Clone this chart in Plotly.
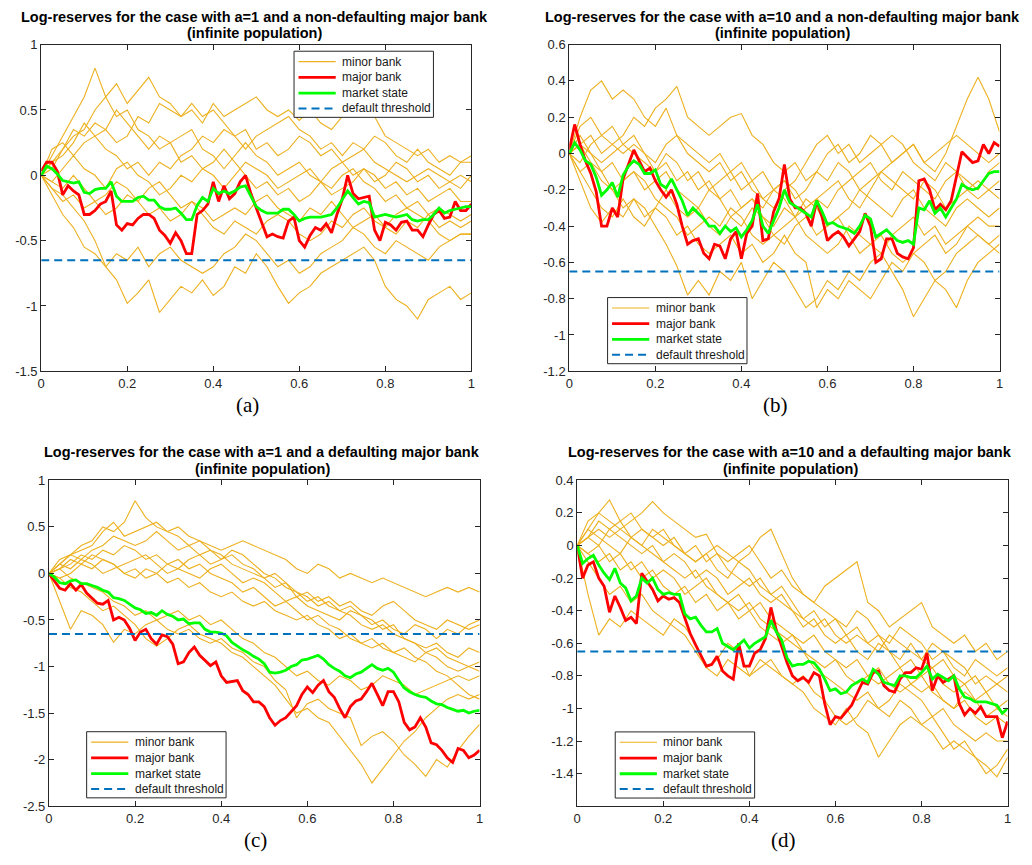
import plotly.graph_objects as go

W, H = 1032, 865
THRESH = -0.65

# time grids
T_MINOR = [i / 40 for i in range(41)]
T_MAJOR = [i / 80 for i in range(81)]

# ---------------- Panel (a): a=1, non-defaulting ----------------
A_MAJOR = [0.03, 0.1, 0.1, 0.03, -0.15, -0.08, -0.12, -0.15, -0.3, -0.3, -0.27, -0.22, -0.2, -0.12, -0.38, -0.42,
           -0.37, -0.38, -0.33, -0.3, -0.3, -0.33, -0.42, -0.46, -0.52, -0.44, -0.5, -0.6, -0.6, -0.3, -0.27, -0.22,
           -0.05, -0.2, -0.08, -0.18, -0.14, -0.05, 0.0, -0.14, -0.25, -0.36, -0.47, -0.45, -0.47, -0.48, -0.35, -0.32,
           -0.5, -0.55, -0.46, -0.4, -0.42, -0.37, -0.44, -0.3, -0.18, 0.0, -0.14, -0.18, -0.17, -0.16, -0.42, -0.5,
           -0.36, -0.38, -0.42, -0.36, -0.35, -0.42, -0.42, -0.47, -0.38, -0.3, -0.27, -0.33, -0.32, -0.2, -0.27, -0.27, -0.22]
A_MARKET = [0.0, 0.07, 0.05, 0.01, -0.04, -0.05, -0.06, -0.05, -0.13, -0.14, -0.11, -0.1, -0.1, -0.05, -0.16, -0.2,
            -0.2, -0.2, -0.17, -0.16, -0.19, -0.19, -0.24, -0.26, -0.26, -0.25, -0.29, -0.34, -0.34, -0.23, -0.17, -0.2,
            -0.1, -0.14, -0.12, -0.14, -0.12, -0.09, -0.08, -0.16, -0.24, -0.27, -0.29, -0.29, -0.29, -0.26, -0.26, -0.3,
            -0.35, -0.33, -0.32, -0.32, -0.32, -0.31, -0.3, -0.25, -0.19, -0.12, -0.17, -0.22, -0.2, -0.21, -0.32, -0.31,
            -0.3, -0.31, -0.32, -0.31, -0.3, -0.34, -0.35, -0.34, -0.34, -0.3, -0.25, -0.29, -0.27, -0.26, -0.25, -0.24, -0.24]
A_MINOR = [
    [0, 0.15, 0.3, 0.45, 0.6, 0.82, 0.6, 0.45, 0.5, 0.35, 0.3, 0.2, 0.25, 0.1, 0.15, 0.05, 0.1, 0.2, 0.1, 0.0, -0.1,
     -0.05, -0.15, -0.1, -0.2, -0.15, -0.05, -0.1, 0.0, 0.05, -0.05, -0.1, -0.2, -0.15, -0.25, -0.2, -0.3, -0.25, -0.3, -0.35, -0.3],
    [0, 0.1, 0.2, 0.3, 0.35, 0.5, 0.6, 0.7, 0.55, 0.65, 0.75, 0.6, 0.55, 0.45, 0.5, 0.4, 0.55, 0.45, 0.5, 0.55, 0.6,
     0.5, 0.45, 0.5, 0.42, 0.5, 0.4, 0.35, 0.45, 0.5, 0.55, 0.45, 0.3, 0.25, 0.2, 0.15, 0.2, 0.1, 0.15, 0.1, 0.15],
    [0, 0.05, 0.2, 0.35, 0.3, 0.4, 0.35, 0.25, 0.3, 0.45, 0.4, 0.55, 0.5, 0.45, 0.55, 0.45, 0.5, 0.4, 0.3, 0.35, 0.2,
     0.25, 0.15, 0.2, 0.3, 0.25, 0.15, 0.2, 0.1, 0.0, 0.05, -0.05, 0.0, 0.1, 0.05, -0.05, 0.0, -0.1, -0.05, 0.0, -0.05],
    [0, 0.2, 0.25, 0.15, 0.25, 0.3, 0.2, 0.15, 0.05, 0.1, 0.0, 0.1, 0.05, 0.15, 0.2, 0.3, 0.25, 0.35, 0.3, 0.2, 0.3,
     0.35, 0.4, 0.45, 0.35, 0.3, 0.2, 0.25, 0.15, 0.25, 0.2, 0.3, 0.25, 0.15, 0.1, 0.2, 0.1, 0.05, 0.0, 0.1, 0.1],
    [0, -0.05, 0.05, 0.15, 0.05, 0.0, -0.1, 0.05, 0.1, 0.0, -0.05, -0.15, -0.1, 0.0, -0.05, 0.05, 0.0, -0.1, 0.0, 0.1,
     0.05, 0.0, -0.1, -0.05, 0.0, 0.05, -0.05, -0.15, -0.1, -0.05, 0.05, 0.0, -0.1, -0.05, -0.15, -0.1, -0.2, -0.15, -0.1, -0.2, -0.2],
    [0, -0.1, -0.2, -0.15, -0.25, -0.2, -0.3, -0.25, -0.15, -0.2, -0.3, -0.25, -0.35, -0.3, -0.2, -0.25, -0.35, -0.3,
     -0.25, -0.3, -0.2, -0.15, -0.25, -0.3, -0.35, -0.25, -0.3, -0.2, -0.3, -0.4, -0.35, -0.3, -0.4, -0.45, -0.35, -0.4,
     -0.3, -0.4, -0.35, -0.4, -0.35],
    [0, -0.15, -0.3, -0.4, -0.55, -0.6, -0.7, -0.8, -0.98, -0.9, -0.8, -1.05, -0.95, -0.85, -0.9, -0.8, -0.92, -0.85,
     -0.7, -0.75, -0.6, -0.7, -0.85, -0.98, -0.9, -0.85, -0.75, -0.7, -0.65, -0.6, -0.55, -0.65, -0.85, -0.95, -1.0,
     -1.1, -0.95, -0.9, -0.85, -0.95, -0.9],
    [0, -0.1, -0.15, -0.25, -0.35, -0.5, -0.7, -0.6, -0.65, -0.55, -0.7, -0.6, -0.55, -0.65, -0.7, -0.75, -0.7, -0.6,
     -0.55, -0.45, -0.5, -0.6, -0.7, -0.65, -0.75, -0.7, -0.6, -0.55, -0.5, -0.4, -0.45, -0.55, -0.6, -0.5, -0.55, -0.6,
     -0.65, -0.55, -0.5, -0.45, -0.45],
    [0, -0.05, -0.1, 0.0, -0.1, -0.2, -0.15, -0.05, -0.1, -0.2, -0.1, -0.05, -0.15, -0.25, -0.2, -0.3, -0.4, -0.45,
     -0.35, -0.4, -0.45, -0.35, -0.3, -0.35, -0.45, -0.5, -0.45, -0.35, -0.4, -0.3, -0.25, -0.35, -0.4, -0.3, -0.25,
     -0.3, -0.35, -0.45, -0.5, -0.45, -0.45],
    [0, 0.1, 0.15, 0.25, 0.4, 0.3, 0.35, 0.5, 0.4, 0.3, 0.2, 0.3, 0.25, 0.3, 0.35, 0.2, 0.15, 0.05, 0.15, 0.25, 0.15,
     0.1, 0.0, 0.05, 0.1, 0.0, -0.05, 0.05, 0.1, 0.15, 0.2, 0.1, 0.05, 0.0, -0.05, 0.0, 0.05, 0.0, -0.05, -0.1, 0.0],
]

# ---------------- Panel (b): a=10, non-defaulting ----------------
B_MAJOR = [0.02, 0.16, 0.05, -0.04, -0.11, -0.21, -0.4, -0.4, -0.3, -0.35, -0.14, -0.06, 0.02, -0.04, -0.1, -0.08,
           -0.15, -0.2, -0.24, -0.2, -0.28, -0.4, -0.5, -0.48, -0.47, -0.55, -0.58, -0.5, -0.51, -0.58, -0.47, -0.43,
           -0.58, -0.44, -0.4, -0.22, -0.48, -0.47, -0.32, -0.25, -0.06, -0.25, -0.3, -0.3, -0.33, -0.4, -0.26, -0.35,
           -0.48, -0.45, -0.43, -0.46, -0.51, -0.47, -0.43, -0.33, -0.4, -0.6, -0.58, -0.47, -0.47, -0.55, -0.57, -0.58,
           -0.52, -0.15, -0.14, -0.2, -0.31, -0.28, -0.31, -0.26, -0.13, 0.01, -0.02, -0.05, -0.04, 0.05, 0.0, 0.06, 0.04]
B_MARKET = [0.0, 0.06, 0.02, -0.04, -0.06, -0.13, -0.23, -0.2, -0.16, -0.24, -0.12, -0.07, -0.04, -0.06, -0.11, -0.11,
            -0.09, -0.17, -0.19, -0.14, -0.2, -0.26, -0.34, -0.3, -0.33, -0.36, -0.4, -0.4, -0.44, -0.4, -0.43, -0.41,
            -0.46, -0.42, -0.37, -0.28, -0.4, -0.44, -0.37, -0.3, -0.2, -0.27, -0.29, -0.31, -0.33, -0.35, -0.26, -0.32,
            -0.39, -0.38, -0.4, -0.41, -0.42, -0.44, -0.4, -0.34, -0.36, -0.46, -0.44, -0.42, -0.45, -0.48, -0.49, -0.48,
            -0.5, -0.3, -0.31, -0.26, -0.33, -0.3, -0.35, -0.3, -0.25, -0.17, -0.19, -0.2, -0.19, -0.15, -0.11, -0.1, -0.1]
B_MINOR = [
    [0, 0.2, 0.35, 0.4, 0.3, 0.35, 0.3, 0.2, 0.15, 0.25, 0.1, 0.05, 0.0, -0.05, 0.0, -0.1, -0.05, -0.15, -0.1, -0.2,
     -0.15, -0.25, -0.2, -0.1, -0.15, -0.05, -0.1, -0.2, -0.15, -0.1, -0.05, 0.0, 0.05, -0.05, 0.0, 0.05, 0.1, 0.05, 0.0, -0.05, 0.0],
    [0, 0.05, 0.1, 0.0, 0.05, 0.1, 0.2, 0.15, 0.25, 0.3, 0.37, 0.2, 0.15, 0.1, 0.15, 0.2, 0.22, 0.1, 0.05, -0.05, -0.1,
     -0.05, -0.15, -0.1, 0.0, 0.05, -0.05, 0.0, 0.1, 0.05, -0.05, 0.0, 0.05, -0.05, -0.1, 0.0, 0.15, 0.3, 0.42, 0.3, 0.12],
    [0, -0.05, 0.05, 0.1, 0.05, 0.0, 0.05, 0.0, -0.05, 0.05, 0.1, 0.0, -0.05, -0.1, -0.05, -0.15, -0.1, -0.2, -0.25,
     -0.2, -0.15, -0.2, -0.3, -0.25, -0.2, -0.15, -0.25, -0.3, -0.2, -0.1, -0.15, -0.2, -0.25, -0.15, -0.2, -0.3, -0.25,
     -0.2, -0.15, -0.2, -0.15],
    [0, 0.1, 0.0, -0.1, -0.05, -0.15, -0.1, -0.2, -0.15, -0.1, -0.2, -0.25, -0.3, -0.2, -0.25, -0.35, -0.3, -0.25,
     -0.35, -0.4, -0.3, -0.35, -0.25, -0.3, -0.4, -0.35, -0.3, -0.2, -0.25, -0.3, -0.35, -0.25, -0.2, -0.3, -0.35, -0.4,
     -0.3, -0.25, -0.3, -0.35, -0.3],
    [0, -0.15, -0.3, -0.38, -0.3, -0.35, -0.25, -0.3, -0.4, -0.5, -0.62, -0.78, -0.7, -0.78, -0.65, -0.7, -0.6, -0.8,
     -0.7, -0.6, -0.65, -0.75, -0.85, -0.8, -0.7, -0.75, -0.65, -0.7, -0.6, -0.55, -0.65, -0.75, -0.9, -0.8, -0.7, -0.75,
     -0.85, -0.7, -0.6, -0.55, -0.5],
    [0, -0.1, -0.2, -0.3, -0.35, -0.25, -0.35, -0.4, -0.3, -0.35, -0.45, -0.4, -0.5, -0.55, -0.5, -0.45, -0.55, -0.5,
     -0.6, -0.55, -0.45, -0.55, -0.6, -0.85, -0.75, -0.8, -0.7, -0.75, -0.8, -0.7, -0.6, -0.65, -0.55, -0.6, -0.7, -0.65,
     -0.55, -0.5, -0.45, -0.5, -0.45],
    [0, 0.05, -0.05, -0.1, -0.2, -0.15, -0.1, -0.15, -0.25, -0.3, -0.35, -0.45, -0.4, -0.35, -0.4, -0.3, -0.35, -0.45,
     -0.5, -0.45, -0.4, -0.35, -0.45, -0.5, -0.55, -0.5, -0.4, -0.45, -0.5, -0.55, -0.45, -0.4, -0.35, -0.45, -0.4, -0.5,
     -0.45, -0.4, -0.35, -0.4, -0.4],
    [0, 0.15, 0.2, 0.1, 0.15, 0.05, 0.1, 0.0, -0.1, -0.05, -0.15, -0.1, -0.2, -0.15, -0.25, -0.2, -0.3, -0.25, -0.3,
     -0.2, -0.25, -0.35, -0.3, -0.25, -0.3, -0.2, -0.15, -0.1, -0.05, -0.15, -0.2, -0.1, -0.15, -0.2, -0.25, -0.15, -0.1,
     -0.15, -0.2, -0.1, -0.05],
    [0, -0.1, -0.05, -0.15, -0.2, -0.3, -0.25, -0.35, -0.3, -0.2, -0.3, -0.35, -0.3, -0.4, -0.45, -0.35, -0.4, -0.3,
     -0.35, -0.45, -0.5, -0.4, -0.35, -0.45, -0.4, -0.35, -0.45, -0.55, -0.5, -0.45, -0.55, -0.6, -0.55, -0.5, -0.45,
     -0.55, -0.5, -0.4, -0.45, -0.5, -0.55],
    [0, 0.05, 0.0, -0.05, 0.0, 0.05, 0.0, -0.05, -0.1, 0.0, -0.05, -0.15, -0.1, -0.2, -0.15, -0.1, -0.2, -0.15, -0.25,
     -0.3, -0.2, -0.15, -0.05, 0.05, 0.1, 0.0, 0.05, -0.05, 0.0, 0.05, 0.1, 0.05, -0.05, -0.1, -0.15, -0.05, -0.1, -0.2,
     -0.25, -0.2, -0.25],
]

# ---------------- Panel (c): a=1, defaulting ----------------
C_MAJOR = [0.0, -0.08, -0.16, -0.18, -0.11, -0.18, -0.12, -0.21, -0.27, -0.32, -0.33, -0.29, -0.5, -0.47, -0.5, -0.59,
           -0.72, -0.63, -0.6, -0.7, -0.76, -0.66, -0.68, -0.76, -0.97, -0.95, -0.85, -0.79, -0.88, -0.93, -0.99, -0.95,
           -1.1, -1.17, -1.16, -1.15, -1.26, -1.3, -1.38, -1.38, -1.43, -1.55, -1.63, -1.58, -1.55, -1.48, -1.42, -1.3,
           -1.22, -1.28, -1.2, -1.15, -1.27, -1.33, -1.45, -1.55, -1.43, -1.37, -1.35, -1.27, -1.18, -1.3, -1.42, -1.27,
           -1.27, -1.38, -1.6, -1.68, -1.65, -1.55, -1.65, -1.82, -1.84, -1.9, -1.98, -2.03, -1.88, -1.9, -1.98, -1.95, -1.9]
C_MARKET = [0.0, -0.04, -0.1, -0.11, -0.08, -0.07, -0.11, -0.11, -0.13, -0.15, -0.18, -0.2, -0.26, -0.27, -0.29, -0.33,
            -0.37, -0.39, -0.43, -0.42, -0.45, -0.4, -0.44, -0.46, -0.5, -0.49, -0.54, -0.53, -0.53, -0.6, -0.63, -0.63,
            -0.64, -0.67, -0.74, -0.78, -0.82, -0.85, -0.89, -0.92, -0.97, -1.06, -1.07, -1.06, -1.04, -1.0, -0.98, -0.93,
            -0.92, -0.9, -0.88, -0.92, -0.98, -1.02, -1.05, -1.1, -1.12, -1.08, -1.06, -1.02, -0.98, -1.02, -1.04, -1.02,
            -1.06, -1.15, -1.23, -1.27, -1.3, -1.32, -1.33, -1.37, -1.4, -1.41, -1.44, -1.46, -1.48, -1.47, -1.5, -1.48, -1.47]
C_MINOR = [
    [0, 0.15, 0.2, 0.3, 0.35, 0.5, 0.45, 0.55, 0.78, 0.6, 0.5, 0.45, 0.4, 0.3, 0.35, 0.25, 0.2, 0.1, 0.05, 0.0, -0.05,
     -0.15, -0.1, -0.25, -0.2, -0.3, -0.25, -0.35, -0.3, -0.4, -0.45, -0.35, -0.3, -0.4, -0.5, -0.55, -0.6, -0.5, -0.55, -0.6, -0.55],
    [0, 0.1, 0.2, 0.25, 0.3, 0.45, 0.55, 0.4, 0.45, 0.5, 0.55, 0.45, 0.5, 0.4, 0.35, 0.3, 0.25, 0.3, 0.35, 0.3, 0.25,
     0.2, 0.15, 0.05, 0.0, 0.1, 0.05, -0.05, 0.0, -0.05, -0.1, -0.05, -0.1, -0.15, -0.2, -0.25, -0.2, -0.15, -0.2, -0.15, -0.2],
    [0, 0.05, 0.1, 0.2, 0.15, 0.25, 0.2, 0.3, 0.25, 0.15, 0.2, 0.1, 0.05, 0.15, 0.2, 0.1, 0.15, 0.25, 0.2, 0.1, 0.0,
     -0.05, -0.15, -0.2, -0.3, -0.25, -0.35, -0.4, -0.35, -0.45, -0.5, -0.6, -0.55, -0.7, -0.75, -0.8, -0.75, -0.85, -0.9, -0.8, -0.85],
    [0, 0.1, 0.05, 0.15, 0.1, 0.0, 0.05, 0.1, 0.15, 0.2, 0.1, 0.0, 0.05, 0.0, -0.05, 0.05, 0.1, 0.0, -0.1, -0.05, -0.1,
     -0.2, -0.3, -0.25, -0.35, -0.4, -0.45, -0.5, -0.4, -0.45, -0.55, -0.5, -0.6, -0.65, -0.55, -0.6, -0.7, -0.6, -0.65, -0.55, -0.5],
    [0, -0.05, 0.0, 0.1, 0.05, 0.15, 0.1, 0.0, -0.05, 0.05, 0.0, -0.1, -0.05, -0.15, -0.1, -0.2, -0.25, -0.2, -0.3,
     -0.35, -0.3, -0.4, -0.45, -0.5, -0.45, -0.55, -0.6, -0.7, -0.65, -0.75, -0.8, -0.75, -0.85, -0.9, -0.95, -0.85, -0.9,
     -1.0, -1.05, -1.0, -0.95],
    [0, -0.3, -0.6, -0.4, -0.45, -0.55, -0.74, -0.6, -0.65, -0.55, -0.5, -0.45, -0.4, -0.5, -0.45, -0.55, -0.5, -0.6,
     -0.7, -0.75, -0.85, -0.9, -1.0, -1.1, -1.05, -1.15, -1.2, -1.1, -1.15, -1.25, -1.2, -1.1, -1.15, -1.2, -1.3, -1.25,
     -1.2, -1.15, -1.1, -1.15, -1.1],
    [0, -0.05, -0.15, -0.2, -0.3, -0.4, -0.35, -0.45, -0.55, -0.7, -0.78, -0.7, -0.6, -0.55, -0.65, -0.7, -0.75, -0.85,
     -0.9, -1.0, -1.1, -1.2, -1.35, -1.5, -1.45, -1.55, -1.6, -1.75, -1.9, -2.05, -2.25, -2.1, -1.95, -1.8, -1.7, -1.55,
     -1.45, -1.35, -1.3, -1.35, -1.3],
    [0, 0.05, -0.05, -0.1, -0.15, -0.2, -0.3, -0.35, -0.45, -0.4, -0.5, -0.6, -0.65, -0.6, -0.7, -0.75, -0.7, -0.8,
     -0.85, -0.95, -1.0, -1.15, -1.25, -1.55, -1.4, -1.35, -1.45, -1.5, -1.55, -1.85, -1.75, -1.7, -1.8, -1.95, -2.05,
     -2.18, -2.0, -2.08, -1.9, -1.75, -1.62],
    [0, 0.05, 0.15, 0.1, 0.2, 0.15, 0.1, 0.0, 0.05, -0.05, 0.0, 0.1, 0.15, 0.05, 0.1, 0.0, -0.05, -0.1, -0.2, -0.15,
     -0.25, -0.35, -0.3, -0.4, -0.5, -0.45, -0.55, -0.6, -0.7, -0.75, -0.7, -0.8, -0.85, -0.8, -0.9, -0.95, -1.05, -1.1,
     -1.2, -1.3, -1.35],
    [0, 0.1, 0.2, 0.15, 0.25, 0.3, 0.4, 0.35, 0.3, 0.35, 0.45, 0.35, 0.25, 0.3, 0.2, 0.25, 0.15, 0.2, 0.1, 0.05, -0.05,
     0.0, -0.1, -0.2, -0.25, -0.35, -0.3, -0.4, -0.45, -0.55, -0.6, -0.55, -0.65, -0.7, -0.75, -0.85, -0.8, -0.9, -0.95, -1.0, -1.05],
]

# ---------------- Panel (d): a=10, defaulting ----------------
D_MAJOR = [0.0, -0.2, -0.12, -0.1, -0.2, -0.25, -0.41, -0.31, -0.38, -0.46, -0.44, -0.48, -0.17, -0.22, -0.27, -0.34,
           -0.31, -0.33, -0.32, -0.35, -0.44, -0.54, -0.61, -0.68, -0.74, -0.73, -0.68, -0.77, -0.8, -0.82, -0.6, -0.74,
           -0.74, -0.66, -0.64, -0.57, -0.38, -0.52, -0.62, -0.72, -0.8, -0.83, -0.81, -0.84, -0.78, -0.8, -0.97, -1.1,
           -1.05, -1.06, -1.02, -0.98, -0.91, -0.84, -0.85, -0.78, -0.77, -0.86, -0.89, -0.9, -0.82, -0.78, -0.78, -0.75,
           -0.76, -0.66, -0.89, -0.8, -0.84, -0.82, -0.8, -0.97, -1.04, -1.0, -1.03, -0.99, -1.05, -1.05, -1.05, -1.18, -1.08]
D_MARKET = [0.0, -0.11, -0.08, -0.06, -0.12, -0.17, -0.21, -0.14, -0.23, -0.26, -0.34, -0.31, -0.2, -0.23, -0.2, -0.27,
            -0.3, -0.29, -0.3, -0.3, -0.42, -0.45, -0.44, -0.49, -0.53, -0.53, -0.51, -0.6, -0.62, -0.64, -0.61, -0.58,
            -0.63, -0.6, -0.58, -0.56, -0.46, -0.53, -0.58, -0.69, -0.74, -0.73, -0.73, -0.71, -0.72, -0.76, -0.82, -0.89,
            -0.88, -0.91, -0.9, -0.86, -0.84, -0.82, -0.84, -0.76, -0.79, -0.84, -0.85, -0.86, -0.8, -0.8, -0.81, -0.81,
            -0.78, -0.74, -0.82, -0.79, -0.81, -0.83, -0.8, -0.88, -0.93, -0.94, -0.96, -0.96, -0.96, -0.97, -0.98, -1.03, -1.0]
D_MINOR = [
    [0, 0.15, 0.2, 0.28, 0.15, 0.2, 0.1, 0.05, 0.1, 0.0, -0.05, -0.1, -0.05, -0.15, -0.2, -0.1, -0.15, -0.25, -0.3,
     -0.35, -0.4, -0.5, -0.45, -0.55, -0.6, -0.55, -0.65, -0.7, -0.6, -0.65, -0.75, -0.7, -0.8, -0.75, -0.85, -0.9,
     -0.85, -0.95, -0.9, -1.0, -0.95],
    [0, 0.05, 0.1, 0.05, 0.1, 0.15, 0.2, 0.27, 0.2, 0.15, 0.1, 0.05, 0.07, -0.05, -0.1, -0.05, 0.0, -0.1, -0.2, -0.15,
     -0.25, -0.3, -0.35, -0.4, -0.45, -0.5, -0.4, -0.45, -0.55, -0.6, -0.5, -0.55, -0.6, -0.7, -0.65, -0.75, -0.8, -0.7,
     -0.75, -0.8, -0.75],
    [0, 0.1, 0.05, 0.0, -0.05, 0.05, 0.0, 0.1, 0.05, 0.0, -0.05, -0.1, -0.05, 0.0, -0.05, -0.1, -0.05, 0.05, 0.1, -0.05,
     -0.2, -0.3, -0.35, -0.25, -0.2, -0.15, -0.1, -0.35, -0.4, -0.5, -0.45, -0.4, -0.35, -0.5, -0.55, -0.6, -0.55, -0.65,
     -0.6, -0.7, -0.65],
    [0, -0.05, -0.1, -0.05, -0.15, -0.1, -0.2, -0.15, -0.25, -0.3, -0.25, -0.35, -0.3, -0.4, -0.35, -0.45, -0.4, -0.35,
     -0.45, -0.5, -0.55, -0.6, -0.55, -0.65, -0.7, -0.75, -0.7, -0.8, -0.85, -0.8, -0.75, -0.85, -0.9, -0.85, -0.95, -1.0,
     -0.9, -0.95, -1.05, -1.0, -1.05],
    [0, -0.3, -0.55, -0.45, -0.5, -0.4, -0.45, -0.5, -0.55, -0.45, -0.5, -0.6, -0.75, -0.8, -0.7, -0.75, -0.8, -0.7,
     -0.75, -0.8, -0.85, -0.9, -1.0, -1.05, -1.1, -1.0, -1.1, -1.15, -1.3, -1.2, -1.1, -1.05, -1.1, -1.15, -1.25, -1.2,
     -1.25, -1.3, -1.4, -1.35, -1.25],
    [0, -0.1, -0.2, -0.3, -0.25, -0.35, -0.3, -0.4, -0.45, -0.5, -0.55, -0.65, -0.75, -0.7, -0.6, -0.65, -0.8, -0.75,
     -0.7, -0.8, -0.85, -0.8, -0.9, -0.95, -1.05, -1.1, -1.05, -0.95, -1.0, -1.05, -0.95, -1.0, -1.1, -1.05, -1.15, -1.25,
     -1.2, -1.3, -1.35, -1.42, -1.3],
    [0, 0.05, 0.15, 0.1, 0.05, 0.0, -0.05, 0.0, -0.1, -0.15, -0.2, -0.15, -0.25, -0.3, -0.35, -0.4, -0.35, -0.45, -0.5,
     -0.55, -0.6, -0.65, -0.7, -0.75, -0.7, -0.8, -0.85, -0.8, -0.75, -0.85, -0.9, -0.85, -0.8, -0.9, -0.95, -1.0, -0.95,
     -1.05, -1.1, -1.05, -1.1],
    [0, 0.1, 0.2, 0.15, 0.1, 0.05, 0.1, 0.05, 0.0, 0.05, -0.05, 0.0, -0.1, -0.05, -0.15, -0.2, -0.25, -0.2, -0.3, -0.25,
     -0.35, -0.45, -0.5, -0.45, -0.55, -0.6, -0.55, -0.6, -0.65, -0.55, -0.6, -0.65, -0.7, -0.6, -0.65, -0.7, -0.75,
     -0.85, -0.8, -0.85, -0.9],
    [0, -0.05, 0.0, -0.1, -0.05, -0.15, -0.1, -0.2, -0.15, -0.2, -0.3, -0.25, -0.2, -0.3, -0.35, -0.3, -0.4, -0.5,
     -0.55, -0.6, -0.55, -0.65, -0.75, -0.8, -0.85, -0.9, -0.95, -0.9, -1.0, -0.95, -0.85, -0.9, -0.95, -1.05, -1.0,
     -1.1, -1.15, -1.2, -1.15, -1.2, -1.2],
    [0, 0.05, 0.0, 0.1, 0.15, 0.05, 0.0, -0.05, -0.1, -0.05, -0.1, -0.2, -0.15, -0.2, -0.3, -0.25, -0.2, -0.3, -0.35,
     -0.3, -0.4, -0.45, -0.4, -0.5, -0.45, -0.55, -0.5, -0.6, -0.55, -0.65, -0.7, -0.6, -0.7, -0.75, -0.7, -0.8, -0.85,
     -0.8, -0.9, -0.85, -0.8],
]

TITLES = [
    "Log-reserves for the case with a=1 and a non-defaulting major bank",
    "Log-reserves for the case with a=10 and a non-defaulting major bank",
    "Log-reserves for the case with a=1 and a defaulting major bank",
    "Log-reserves for the case with a=10 and a defaulting major bank",
]
SUBTITLE = "(infinite population)"
PANEL_LABELS = ["(a)", "(b)", "(c)", "(d)"]
X_TICKS = [0, 0.2, 0.4, 0.6, 0.8, 1]
Y_TICKS = [
    [-1.5, -1, -0.5, 0, 0.5, 1],
    [-1.2, -1, -0.8, -0.6, -0.4, -0.2, 0, 0.2, 0.4, 0.6],
    [-2.5, -2, -1.5, -1, -0.5, 0, 0.5, 1],
    [-1.4, -1.2, -1, -0.8, -0.6, -0.4, -0.2, 0, 0.2, 0.4],
]
Y_RANGES = [[-1.5, 1], [-1.2, 0.6], [-2.5, 1], [-1.6, 0.4]]
LEGEND_NAMES = ["minor bank", "major bank", "market state", "default threshold"]

# layout geometry (pixels)
PLOT_PX = [  # x0, x1, ytop, ybottom
    (37.5, 471.0, 38.3, 370.7),
    (569.7, 1003.3, 38.3, 370.7),
    (45.3, 479.3, 481.7, 813.3),
    (577.7, 1011.5, 481.7, 813.3),
]
LEGEND_BOX = [(292.3, 45.0), (608.3, 295.7), (83.3, 737.5), (616.0, 737.7)]  # left, top
LEG_W, LEG_H = 140.5, 67.3
LEG_ROWS = [10.6, 26.6, 42.6, 58.2]

C_MINOR_COL = "#EDB120"
C_MAJOR_COL = "#FF0000"
C_MARKET_COL = "#00FF00"
C_THRESH_COL = "#0072BD"
AX_COL = "#262626"
FONT = "Liberation Sans, Arial, sans-serif"

MINOR_W, MAJOR_W, THRESH_W = 1.1, 2.8, 2.0
THRESH_DASH = "8px,5px"

panels = [
    (A_MINOR, A_MAJOR, A_MARKET),
    (B_MINOR, B_MAJOR, B_MARKET),
    (C_MINOR, C_MAJOR, C_MARKET),
    (D_MINOR, D_MAJOR, D_MARKET),
]

fig = go.Figure()
annotations, shapes = [], []
layout = dict(
    width=W, height=H, margin=dict(l=0, r=0, t=0, b=0),
    paper_bgcolor="white", plot_bgcolor="white", showlegend=False,
    font=dict(family=FONT, size=12, color=AX_COL),
)


def px(x):
    return x / W


def py(y):
    return 1 - y / H


for k, (minors, major, market) in enumerate(panels):
    idx = "" if k == 0 else str(k + 1)
    xa, ya = "x" + idx, "y" + idx
    x0, x1, yt, yb = PLOT_PX[k]
    for j, m in enumerate(minors):
        fig.add_trace(go.Scatter(x=T_MINOR, y=m, mode="lines", xaxis=xa, yaxis=ya,
                                 line=dict(color=C_MINOR_COL, width=MINOR_W), name=LEGEND_NAMES[0]))
    fig.add_trace(go.Scatter(x=T_MAJOR, y=major, mode="lines", xaxis=xa, yaxis=ya,
                             line=dict(color=C_MAJOR_COL, width=MAJOR_W), name=LEGEND_NAMES[1]))
    fig.add_trace(go.Scatter(x=T_MAJOR, y=market, mode="lines", xaxis=xa, yaxis=ya,
                             line=dict(color=C_MARKET_COL, width=MAJOR_W), name=LEGEND_NAMES[2]))
    fig.add_trace(go.Scatter(x=[0, 1], y=[THRESH, THRESH], mode="lines", xaxis=xa, yaxis=ya,
                             line=dict(color=C_THRESH_COL, width=THRESH_W, dash=THRESH_DASH),
                             name=LEGEND_NAMES[3]))

    axis_common = dict(showgrid=False, zeroline=False, showline=True, linecolor=AX_COL, linewidth=1,
                       mirror="ticks", ticks="inside", ticklen=5, tickcolor=AX_COL, tickwidth=1,
                       tickfont=dict(family=FONT, size=13, color=AX_COL))
    layout["xaxis" + idx] = dict(axis_common, domain=[px(x0), px(x1)], range=[0, 1], anchor=ya,
                                 tickvals=X_TICKS, ticktext=["%g" % v for v in X_TICKS])
    layout["yaxis" + idx] = dict(axis_common, domain=[py(yb), py(yt)], range=Y_RANGES[k], anchor=xa,
                                 tickvals=Y_TICKS[k], ticktext=["%g" % v for v in Y_TICKS[k]])

    # legend box (drawn like the MATLAB legend)
    lx, lt = LEGEND_BOX[k]
    shapes.append(dict(type="rect", xref="paper", yref="paper", x0=px(lx), x1=px(lx + LEG_W),
                       y0=py(lt + LEG_H), y1=py(lt), line=dict(color=AX_COL, width=1),
                       fillcolor="white", layer="above"))
    styles = [dict(color=C_MINOR_COL, width=MINOR_W), dict(color=C_MAJOR_COL, width=MAJOR_W),
              dict(color=C_MARKET_COL, width=MAJOR_W),
              dict(color=C_THRESH_COL, width=THRESH_W, dash=THRESH_DASH)]
    for r, (name, st) in enumerate(zip(LEGEND_NAMES, styles)):
        yy = py(lt + LEG_ROWS[r])
        shapes.append(dict(type="line", xref="paper", yref="paper", x0=px(lx + 4.5), x1=px(lx + 42),
                           y0=yy, y1=yy, line=st, layer="above"))
        annotations.append(dict(text=name, x=px(lx + 46.5), y=yy, xref="paper", yref="paper",
                                showarrow=False, xanchor="left", yanchor="middle",
                                font=dict(family=FONT, size=12, color="#1a1a1a")))

    cx = (x0 + x1) / 2
    annotations.append(dict(text="<b>" + TITLES[k] + "</b>", x=px(cx - 2), y=py(yt - 28.5),
                            xref="paper", yref="paper", showarrow=False, xanchor="center",
                            yanchor="middle", font=dict(family=FONT, size=14.5, color="black")))
    annotations.append(dict(text="<b>" + SUBTITLE + "</b>", x=px(cx - 2), y=py(yt - 11.5),
                            xref="paper", yref="paper", showarrow=False, xanchor="center",
                            yanchor="middle", font=dict(family=FONT, size=14.5, color="black")))
    annotations.append(dict(text=PANEL_LABELS[k], x=px(cx - 9), y=py(yb + 34.5),
                            xref="paper", yref="paper", showarrow=False, xanchor="center",
                            yanchor="middle",
                            font=dict(family="Liberation Serif, Times New Roman, serif", size=21,
                                      color="black")))

layout["annotations"] = annotations
layout["shapes"] = shapes
fig.update_layout(**layout)
fig.write_html("out.html")
